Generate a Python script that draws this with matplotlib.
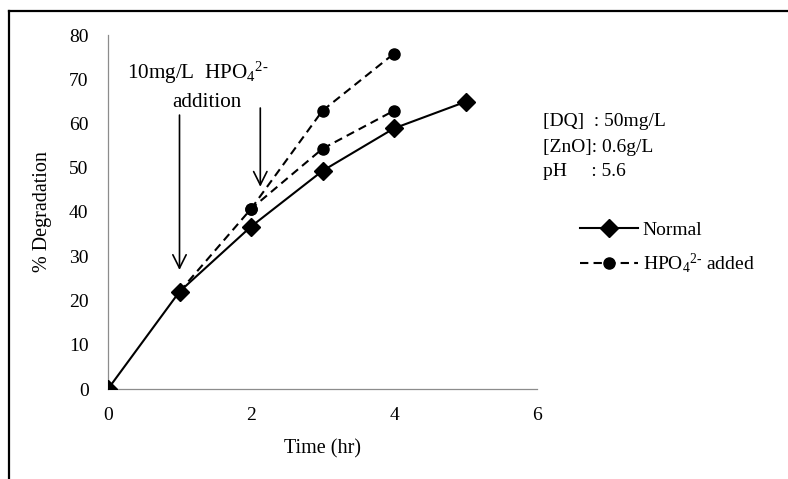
import matplotlib
matplotlib.use("Agg")
import matplotlib.pyplot as plt
from matplotlib.lines import Line2D

plt.rcParams['font.family'] = ['Liberation Serif', 'DejaVu Serif']
plt.rcParams['mathtext.fontset'] = 'custom'
plt.rcParams['mathtext.rm'] = 'Liberation Serif'
plt.rcParams['mathtext.it'] = 'Liberation Serif:italic'

# Degradation data (%)
time_normal = [0, 1, 2, 3, 4, 5]
deg_normal = [0, 22.0, 36.7, 49.3, 58.9, 64.9]

# phosphate added at 1 hr
time_add1 = [1, 2, 3, 4]
deg_add1 = [22.0, 40.7, 54.3, 62.9]

# phosphate added at 2 hr
time_add2 = [2, 3, 4]
deg_add2 = [40.7, 62.9, 75.8]

x_ticks = [0, 2, 4, 6]
y_ticks = [0, 10, 20, 30, 40, 50, 60, 70, 80]

# arrows: (x, y_start, y_tip)
arrows = [(1.0, 61.9, 26.9), (2.13, 63.5, 45.7)]

W, H = 788, 479
fig = plt.figure(figsize=(W / 100, H / 100), dpi=100)
ax = fig.add_axes([108 / W, 1 - 389 / H, (537 - 108) / W, (389 - 35) / H])

dash = (0, (4, 2.5))
ax.plot(time_add2, deg_add2, color='black', lw=1.5, ls=dash,
        marker='o', markersize=8, zorder=3)
ax.plot(time_add1, deg_add1, color='black', lw=1.5, ls=dash,
        marker='o', markersize=8, zorder=3)
ax.plot(time_normal, deg_normal, color='black', lw=1.5, ls='-',
        marker='D', markersize=9, zorder=4)

for xa, y0, y1 in arrows:
    ax.annotate('', xy=(xa, y1), xytext=(xa, y0),
                arrowprops=dict(arrowstyle='->', color='black', lw=1.2,
                                mutation_scale=24, shrinkA=0, shrinkB=0))

ax.text(1.25, 71.4, r'10mg/L  HPO$_4$$^{2\text{-}}$', ha='center', va='center',
        fontsize=15.2)
ax.text(1.38, 64.8, 'addition', ha='center', va='center', fontsize=15.2)

ax.set_xlim(0, 6)
ax.set_ylim(0, 80)
ax.set_xticks(x_ticks)
ax.set_yticks(y_ticks)
ax.tick_params(length=0, labelsize=14)
ax.tick_params(axis='y', pad=14)
ax.tick_params(axis='x', pad=13)
for s in ('top', 'right'):
    ax.spines[s].set_visible(False)
for s in ('left', 'bottom'):
    ax.spines[s].set_color('#8c8c8c')
    ax.spines[s].set_linewidth(0.9)

ax.set_xlabel('Time (hr)', fontsize=14.5, labelpad=11)
ax.set_ylabel('% Degradation', fontsize=14.5, labelpad=12)

# experimental conditions
fig.text(543 / W, 1 - 122 / H, '[DQ]  : 50mg/L', fontsize=14, va='center')
fig.text(543 / W, 1 - 148 / H, '[ZnO]: 0.6g/L', fontsize=14, va='center')
fig.text(543 / W, 1 - 171 / H, 'pH     : 5.6', fontsize=14, va='center')

handles = [
    Line2D([], [], color='black', lw=1.5, marker='D', markersize=9),
    Line2D([], [], color='black', lw=1.5, ls=dash, marker='o', markersize=8),
]
fig.legend(handles, ['Normal', r'HPO$_4$$^{2\text{-}}$ added'],
           loc='center left', bbox_to_anchor=(562 / W, 1 - 248 / H),
           frameon=False, fontsize=14, handlelength=3.0,
           handletextpad=0.25, labelspacing=0.65)

# outer frame
fig.add_artist(Line2D([9 / W, 9 / W], [0, 1 - 11 / H], color='black', lw=1.6,
                      transform=fig.transFigure))
fig.add_artist(Line2D([9 / W, 1], [1 - 11 / H, 1 - 11 / H], color='black',
                      lw=1.6, transform=fig.transFigure))

fig.savefig('out.png', dpi=100)
